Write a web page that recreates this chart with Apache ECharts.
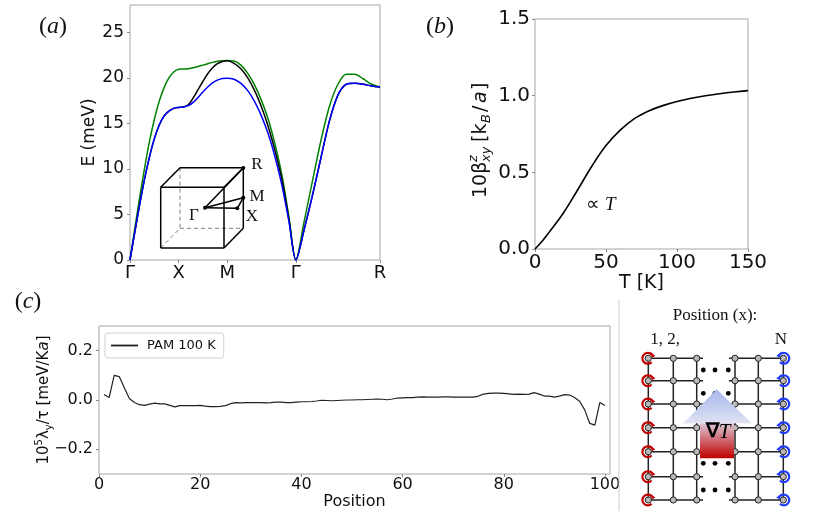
<!DOCTYPE html>
<html><head><meta charset="utf-8">
<script src="https://cdn.jsdelivr.net/npm/echarts@6/dist/echarts.min.js"></script>
<style>html,body{margin:0;padding:0;background:#fff}#c{width:817px;height:511px}</style>
</head><body><div id="c"></div>
<script>
// ---------------- data ----------------
// (a) magnon bands along Γ-X-M-Γ-R (path coordinate)
const kPath = [0,0.1,0.2,0.3,0.4,0.5,0.6,0.7,0.8,0.9,1.0,
  1.1,1.2,1.3,1.4,1.5,1.6,1.7,1.8,1.9,2.0,
  2.1414,2.2828,2.4243,2.5657,2.7071,2.8485,2.9899,3.1314,3.2728,3.4142,
  3.5874,3.7606,3.9338,4.1070,4.2803,4.4535,4.6267,4.7999,4.9731,5.1463];
const kTicks = [0, 1, 2, 3.4142, 5.1463];
const kTickLabels = ['Γ','X','M','Γ','R'];
const bandGreen = [0,3.5,6.9,10.1,13.0,15.4,17.4,18.9,20.0,20.65,20.95,
  20.97,21.0,21.1,21.25,21.4,21.55,21.7,21.82,21.88,21.9,
  21.85,21.4,20.5,19.2,17.5,15.4,12.6,9.2,4.7,0,
  4.3,8.8,13.2,16.9,19.3,20.4,20.4,19.9,19.3,19.0];
const bandBlack = [0,3.1,6.1,8.9,11.3,13.3,14.8,15.8,16.35,16.65,16.75,
  16.8,17.05,17.8,18.7,19.6,20.45,21.1,21.55,21.8,21.88,
  21.6,21.0,20.0,18.6,16.8,14.6,11.9,8.7,4.4,0,
  3.4,7.2,11.3,15.3,18.1,19.3,19.4,19.3,19.1,19.0];
const bandBlue = [0,3.1,6.1,8.9,11.3,13.3,14.8,15.8,16.35,16.65,16.75,
  16.8,16.95,17.3,17.85,18.45,19.0,19.45,19.75,19.93,19.97,
  19.85,19.4,18.6,17.4,15.8,13.8,11.2,8.1,4.2,0,
  3.4,7.2,11.3,15.3,18.1,19.3,19.4,19.3,19.1,19.0];
const eTicks = [0,5,10,15,20,25];

// (b) 10 beta^z_xy vs T
const tempK = [0,5,10,20,30,40,50,60,70,80,90,100,110,120,130,140,150];
const beta = [0,0.05,0.11,0.235,0.385,0.54,0.675,0.775,0.85,0.9,0.935,0.962,0.983,1.0,1.013,1.024,1.033];

// (c) lambda_y / tau vs position
const position = [1,2,3,4,5,6,7,8,9,10,11,12,13,14,15,16,17,18,19,20,
  21,22,23,24,25,26,27,28,29,30,31,32,33,34,35,36,37,38,39,40,
  41,42,43,44,45,46,47,48,49,50,51,52,53,54,55,56,57,58,59,60,
  61,62,63,64,65,66,67,68,69,70,71,72,73,74,75,76,77,78,79,80,
  81,82,83,84,85,86,87,88,89,90,91,92,93,94,95,96,97,98,99,100];
const lambdaY = [0.022,0.01,0.1,0.095,0.05,0.006,-0.01,-0.019,-0.022,-0.017,
  -0.013,-0.016,-0.016,-0.022,-0.028,-0.023,-0.023,-0.023,-0.023,-0.022,
  -0.025,-0.027,-0.027,-0.026,-0.023,-0.015,-0.011,-0.012,-0.011,-0.011,
  -0.011,-0.011,-0.012,-0.011,-0.009,-0.009,-0.011,-0.011,-0.009,-0.007,
  -0.007,-0.006,-0.004,-0.001,-0.002,-0.003,-0.002,-0.001,0.0,0.0,
  0.001,0.001,0.002,0.003,0.004,0.003,0.001,0.004,0.008,0.009,
  0.01,0.01,0.012,0.013,0.012,0.012,0.012,0.013,0.013,0.012,
  0.012,0.012,0.012,0.012,0.016,0.024,0.027,0.028,0.028,0.027,
  0.025,0.023,0.024,0.023,0.024,0.03,0.024,0.016,0.016,0.012,
  0.016,0.022,0.02,0.01,-0.005,-0.04,-0.095,-0.102,-0.01,-0.022];
const lamTicks = [-0.2, 0, 0.2];
const posTicks = [0,20,40,60,80,100];

// ---------------- styling helpers ----------------
const FONT = 'DejaVu Sans';
const SERIF = 'Liberation Serif';
const TXT = '#111';
const FRAME = '#a6a6a6';
const tick = (len) => ({show:true, length:len, lineStyle:{color:'#888', width:1}});
const noLine = {show:false, onZero:false};

const chart = echarts.init(document.getElementById('c'), null, {renderer:'canvas'});

// ---------------- graphic (illustrations) ----------------
const G = [];
const line = (x1,y1,x2,y2,stroke,w,dash) => G.push({type:'line', z:10, shape:{x1,y1,x2,y2},
  style:{stroke, lineWidth:w, lineDash:dash||null}});
const txt = (text,x,y,size,family,extra) => G.push({type:'text', z:12,
  style:Object.assign({text, x, y, fontSize:size, fontFamily:family, fill:TXT, align:'center', verticalAlign:'middle'}, extra||{})});

// panel labels
const panelRich = {i:{fontStyle:'italic', fontSize:24, fontFamily:SERIF}};
txt('({i|a})', 53, 27, 24, SERIF, {rich:panelRich});
txt('({i|b})', 440, 27, 24, SERIF, {rich:panelRich});
txt('({i|c})', 28, 302, 24, SERIF, {rich:panelRich});

// inset cube (a)
const F = {x0:160.7, y0:187.3, x1:224, y1:248};
const B = {x0:180, y0:167.7, x1:243.3, y1:228.3};
const dash = [4,3];
line(B.x0,B.y0,B.x0,B.y1,'#808080',1,dash);
line(B.x0,B.y1,B.x1,B.y1,'#808080',1,dash);
line(F.x0,F.y1,B.x0,B.y1,'#808080',1,dash);
line(F.x0,F.y0,F.x1,F.y0,'#000',1.5); line(F.x1,F.y0,F.x1,F.y1,'#000',1.5);
line(F.x1,F.y1,F.x0,F.y1,'#000',1.5); line(F.x0,F.y1,F.x0,F.y0,'#000',1.5);
line(B.x0,B.y0,B.x1,B.y0,'#000',1.5); line(B.x1,B.y0,B.x1,B.y1,'#000',1.5);
line(F.x0,F.y0,B.x0,B.y0,'#000',1.5); line(F.x1,F.y0,B.x1,B.y0,'#000',1.5);
line(F.x1,F.y1,B.x1,B.y1,'#000',1.5);
const pG=[205,207.7], pX=[237.3,208.3], pM=[243.3,197.7], pR=[243.3,168];
line(pG[0],pG[1],pX[0],pX[1],'#000',1.5); line(pX[0],pX[1],pM[0],pM[1],'#000',1.5);
line(pM[0],pM[1],pG[0],pG[1],'#000',1.5); line(pG[0],pG[1],pR[0],pR[1],'#000',1.5);
[pG,pX,pM,pR].forEach(p=>G.push({type:'circle', z:11, shape:{cx:p[0],cy:p[1],r:2}, style:{fill:'#000'}}));
txt('R', 257, 165, 17, SERIF); txt('M', 257, 197, 17, SERIF);
txt('X', 252, 217, 17, SERIF); txt('Γ', 194, 216, 17, SERIF);

// (b) annotation
txt('∝ {i|T}', 601, 205, 19, SERIF, {rich:{i:{fontStyle:'italic', fontSize:19, fontFamily:SERIF}}});

// (b) y-axis title (rotated group with stacked super/subscript)
G.push({type:'group', x:481, y:198, rotation:Math.PI/2, z:12, children:[
  {type:'text', style:{text:'10β', x:0, y:0, fontSize:19, fontFamily:FONT, fill:TXT, align:'left', verticalAlign:'middle'}},
  {type:'text', style:{text:'z', x:36, y:-7, fontSize:13, fontStyle:'italic', fontFamily:FONT, fill:TXT, align:'left', verticalAlign:'middle'}},
  {type:'text', style:{text:'xy', x:36, y:6, fontSize:13, fontStyle:'italic', fontFamily:FONT, fill:TXT, align:'left', verticalAlign:'middle'}},
  {type:'text', style:{text:'[k', x:56, y:0, fontSize:19, fontFamily:FONT, fill:TXT, align:'left', verticalAlign:'middle'}},
  {type:'text', style:{text:'B', x:75, y:6, fontSize:13, fontStyle:'italic', fontFamily:FONT, fill:TXT, align:'left', verticalAlign:'middle'}},
  {type:'text', style:{text:'/', x:86, y:0, fontSize:19, fontFamily:FONT, fill:TXT, align:'left', verticalAlign:'middle'}},
  {type:'text', style:{text:'a', x:95, y:0, fontSize:19, fontStyle:'italic', fontFamily:FONT, fill:TXT, align:'left', verticalAlign:'middle'}},
  {type:'text', style:{text:']', x:108, y:0, fontSize:19, fontFamily:FONT, fill:TXT, align:'left', verticalAlign:'middle'}}
]});

// separator
line(619, 300, 619, 511, '#cfcfcf', 1);

// lattice diagram
const latCols = [648.3, 673.3, 696.7, 735, 758.3, 783.3];
const latRows = [358.3, 380.7, 404, 427.7, 451.7, 476.7, 500];
latCols.forEach(x => line(x, latRows[0], x, latRows[6], '#222', 1.5));
latRows.forEach((y,i) => {
  if (i>=2 && i<=4) { line(latCols[0], y, latCols[5], y, '#222', 1.5); }
  else { line(latCols[0], y, 703, y, '#222', 1.5); line(729, y, latCols[5], y, '#222', 1.5); }
});
latRows.forEach(y => latCols.forEach(x => G.push({type:'circle', z:11, shape:{cx:x, cy:y, r:3.1},
  style:{fill:'#b9b9b9', stroke:'#222', lineWidth:1}})));
[370, 393.3, 463.3, 490].forEach(y => [703.3, 715, 728.3].forEach(x =>
  G.push({type:'circle', z:11, shape:{cx:x, cy:y, r:2.4}, style:{fill:'#000'}})));
// gradient arrow
G.push({type:'polygon', z:13, shape:{points:[[716.7,389.3],[751.7,423.3],[734,423.3],[734,458.3],[700,458.3],[700,423.3],[683.3,423.3]]},
  style:{fill:new echarts.graphic.LinearGradient(0,0,0,1,[
    {offset:0, color:'#a7b7ea'},{offset:0.49, color:'#dfe2f3'},
    {offset:0.5, color:'#dcc4d2'},{offset:1, color:'#c00000'}])}});
G.push({type:'text', z:14, style:{text:'{b|∇}{i|T}', x:718, y:432, align:'center', verticalAlign:'middle', fill:'#000',
  rich:{b:{fontWeight:'bold', fontSize:20, fontFamily:SERIF, fill:'#000'}, i:{fontStyle:'italic', fontSize:21, fontFamily:SERIF, fill:'#000'}}}});
// curled arrows
latRows.forEach(y => {
  const r = 5.4;
  const cxL = latCols[0] - 0.5;
  G.push({type:'arc', z:12, shape:{cx:cxL, cy:y, r, startAngle:-Math.PI/4, endAngle:Math.PI/4, clockwise:false},
    style:{stroke:'#c00000', lineWidth:2.2, fill:null}});
  const a = -Math.PI/4, px = cxL + r*Math.cos(a), py = y + r*Math.sin(a);
  G.push({type:'polygon', z:12, shape:{points:[[px+3.8,py+1.6],[px-1.6,py-3],[px+0.2,py+3]]}, style:{fill:'#c00000'}});
  const cxR = latCols[5] + 0.5;
  G.push({type:'arc', z:12, shape:{cx:cxR, cy:y, r, startAngle:-3*Math.PI/4, endAngle:3*Math.PI/4, clockwise:true},
    style:{stroke:'#1f3cff', lineWidth:2.2, fill:null}});
  const b = -3*Math.PI/4, qx = cxR + r*Math.cos(b), qy = y + r*Math.sin(b);
  G.push({type:'polygon', z:12, shape:{points:[[qx-3.8,qy+1.6],[qx+1.6,qy-3],[qx-0.2,qy+3]]}, style:{fill:'#1f3cff'}});
});
txt('Position (x):', 715, 316, 17, SERIF);
txt('1, 2,', 665, 340, 17, SERIF);
txt('N', 781, 340, 17, SERIF);

// ---------------- option ----------------
const nearestLabel = (v) => { const i = kTicks.findIndex(t => Math.abs(t - v) < 1e-3); return i >= 0 ? kTickLabels[i] : ''; };

const option = {
  backgroundColor:'#fff',
  animation:false,
  textStyle:{fontFamily:FONT, color:TXT},
  grid:[
    {left:130, top:5, width:250, height:255, show:true, borderColor:FRAME, borderWidth:1},
    {left:535, top:19, width:213, height:230, show:true, borderColor:FRAME, borderWidth:1},
    {left:99, top:326, width:511, height:148, show:true, borderColor:FRAME, borderWidth:1}
  ],
  legend:{
    data:[{name:'PAM 100 K', icon:'rect'}], left:105, top:333, orient:'vertical',
    itemWidth:27, itemHeight:1.8, padding:[6,8,6,6], itemGap:4,
    borderColor:'#d0d0d0', borderWidth:1, borderRadius:3, backgroundColor:'#fff',
    textStyle:{fontSize:13, fontFamily:FONT, color:TXT, padding:[0,0,0,4]}
  },
  xAxis:[
    {type:'value', gridIndex:0, min:0, max:5.1463,
      axisLine:noLine, splitLine:{show:false},
      axisTick:Object.assign(tick(3), {customValues:kTicks}),
      axisLabel:{customValues:kTicks, formatter:nearestLabel, margin:4, fontSize:18, color:TXT, fontFamily:FONT}},
    {type:'value', gridIndex:1, min:0, max:150, interval:50,
      axisLine:noLine, splitLine:{show:false}, axisTick:tick(3),
      axisLabel:{margin:4, fontSize:20, color:TXT, fontFamily:FONT},
      name:'T [K]', nameLocation:'middle', nameGap:21, nameTextStyle:{fontSize:19, color:TXT, fontFamily:FONT}},
    {type:'value', gridIndex:2, min:0, max:101,
      axisLine:noLine, splitLine:{show:false},
      axisTick:Object.assign(tick(3), {customValues:posTicks}),
      axisLabel:{customValues:posTicks, margin:3, fontSize:16, color:TXT, fontFamily:FONT},
      name:'Position', nameLocation:'middle', nameGap:19, nameTextStyle:{fontSize:16, color:TXT, fontFamily:FONT}}
  ],
  yAxis:[
    {type:'value', gridIndex:0, min:0, max:28,
      axisLine:noLine, splitLine:{show:false},
      axisTick:Object.assign(tick(3), {customValues:eTicks}),
      axisLabel:{customValues:eTicks, margin:6, fontSize:17, color:TXT, fontFamily:FONT},
      name:'E (meV)', nameLocation:'middle', nameGap:32, nameTextStyle:{fontSize:17, color:TXT, fontFamily:FONT}},
    {type:'value', gridIndex:1, min:0, max:1.5, interval:0.5,
      axisLine:noLine, splitLine:{show:false}, axisTick:tick(3),
      axisLabel:{margin:5, fontSize:20, color:TXT, fontFamily:FONT, formatter:v=>v.toFixed(1)}},
    {type:'value', gridIndex:2, min:-0.3, max:0.3,
      axisLine:noLine, splitLine:{show:false},
      axisTick:Object.assign(tick(3), {customValues:lamTicks}),
      axisLabel:{customValues:lamTicks, margin:6, fontSize:16, color:TXT, fontFamily:FONT,
        formatter:v=>(v<0?'−':'')+Math.abs(v).toFixed(1)},
      name:'10{sup|5}λ{sub|y}/τ [meV/K{it|a}]', nameLocation:'middle', nameGap:45, nameMoveOverlap:false,
      nameTextStyle:{fontSize:15, color:TXT, fontFamily:FONT, lineHeight:20,
        rich:{sup:{fontSize:10, verticalAlign:'top', fontFamily:FONT, color:TXT},
              sub:{fontSize:10, verticalAlign:'bottom', fontFamily:FONT, color:TXT},
              it:{fontSize:15, fontStyle:'italic', fontFamily:FONT, color:TXT}}}}
  ],
  series:[
    {type:'line', name:'band3', xAxisIndex:0, yAxisIndex:0, data:kPath.map((k,i)=>[k,bandGreen[i]]),
      symbol:'none', smooth:0.3, lineStyle:{color:'#008000', width:1.5}},
    {type:'line', name:'band2', xAxisIndex:0, yAxisIndex:0, data:kPath.map((k,i)=>[k,bandBlack[i]]),
      symbol:'none', smooth:0.3, lineStyle:{color:'#000000', width:1.5}},
    {type:'line', name:'band1', xAxisIndex:0, yAxisIndex:0, data:kPath.map((k,i)=>[k,bandBlue[i]]),
      symbol:'none', smooth:0.3, lineStyle:{color:'#0000ff', width:1.5}},
    {type:'line', name:'beta', xAxisIndex:1, yAxisIndex:1, data:tempK.map((t,i)=>[t,beta[i]]),
      symbol:'none', smooth:0.4, lineStyle:{color:'#000', width:1.6}},
    {type:'line', name:'PAM 100 K', xAxisIndex:2, yAxisIndex:2, data:position.map((p,i)=>[p,lambdaY[i]]),
      symbol:'none', lineStyle:{color:'#222', width:1.2}, itemStyle:{color:'#222'}}
  ],
  graphic:{elements:G}
};
chart.setOption(option);
</script></body></html>
